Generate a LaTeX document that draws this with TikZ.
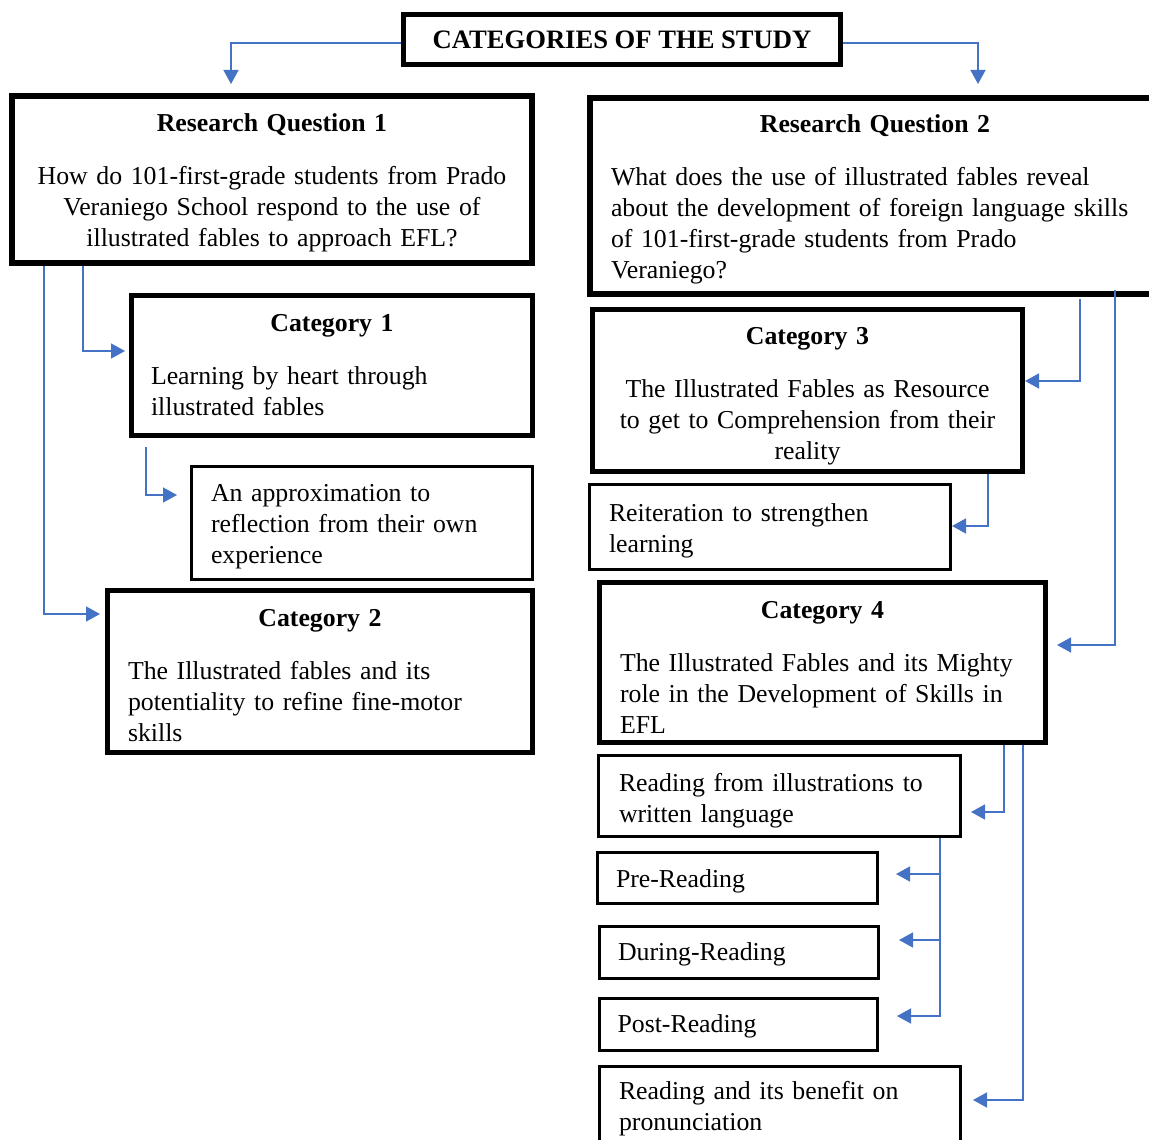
\documentclass[tikz,border=0pt]{standalone}
\usepackage{fontspec}
\setmainfont{Liberation Serif}
\setlength{\parindent}{0pt}
\usetikzlibrary{arrows.meta,positioning}

\definecolor{flowblue}{RGB}{68,114,196}
\newcommand{\topstrut}[1][12.5pt]{\rule{0pt}{#1}}
\newcommand{\boxhead}[2][12.5pt]{\centerline{\topstrut[#1]\bfseries #2}\vskip 11pt}

\tikzset{
  box/.style={draw, rectangle, inner xsep=0pt, inner ysep=2pt,
    font=\fontsize{12.9}{15.5}\selectfont},
  bigbox/.style={box, line width=3pt},
  catbox/.style={box, line width=2.5pt},
  subbox/.style={box, line width=1.5pt, align=left},
  flow/.style={flowblue, line width=0.75pt,
    -{Triangle[length=7pt,width=7.5pt]}},
  gap/.style={shorten >=#1},
}

\begin{document}
\begin{tikzpicture}[x=0.5pt,y=-0.5pt]
  \useasboundingbox (0,0) rectangle (1149,1139);

  \node[box, line width=2.5pt, minimum width=218.5pt, minimum height=25pt,
    font=\fontsize{13.3}{15.5}\selectfont]
    (title) at (622,39.5) {\textbf{CATEGORIES OF THE STUDY}};

  % left column
  \node[bigbox, align=center, text width=250pt, minimum width=260pt, minimum height=83.5pt]
    (rq1) at (272,179.5) {\boxhead{Research Question 1}
    How do 101-first-grade students from Prado\\
    Veraniego School respond to the use of\\
    illustrated fables to approach EFL?};
  \node[catbox, align=left, text width=181pt, minimum width=200.5pt, minimum height=70pt]
    (cat1) [below left=13.5pt and 0pt of rq1.south east] {\boxhead[0pt]{Category 1}
    Learning by heart through\\ illustrated fables};
  \node[subbox, text width=151pt, minimum width=170.5pt, minimum height=56.5pt]
    (approx) [below left=13.5pt and 0.5pt of cat1.south east]
    {\topstrut An approximation to\\ reflection from their own\\ experience};
  \node[catbox, align=left, text width=192pt, minimum width=212.5pt, minimum height=81pt]
    (cat2) [below left=3.5pt and -0.5pt of approx.south east] {\boxhead{Category 2}
    The Illustrated fables and its\\ potentiality to refine fine-motor\\ skills};

  % right column
  \node[bigbox, align=left, text width=264pt, minimum width=285pt, minimum height=98pt]
    (rq2) at (875,196) {\boxhead{Research Question 2}
    What does the use of illustrated fables reveal\\
    about the development of foreign language skills\\
    of 101-first-grade students from Prado\\
    Veraniego?};
  \node[catbox, align=center, text width=205pt, minimum width=215pt, minimum height=81pt]
    (cat3) [below right=5pt and 1.5pt of rq2.south west] {\boxhead[14pt]{Category 3}
    The Illustrated Fables as Resource\\ to get to Comprehension from their\\ reality};
  \node[subbox, text width=161pt, minimum width=180.5pt, minimum height=42.5pt]
    (reit) [below right=4.5pt and -1pt of cat3.south west]
    {\topstrut Reiteration to strengthen\\ learning};
  \node[catbox, align=left, text width=202.5pt, minimum width=223pt, minimum height=80pt]
    (cat4) [below right=4.5pt and 4.5pt of reit.south west] {\boxhead[13pt]{Category 4}
    The Illustrated Fables and its Mighty\\ role in the Development of Skills in\\ EFL};
  \node[subbox, text width=160.5pt, minimum width=181pt, minimum height=40.5pt]
    (rfi) [below right=4.5pt and 0pt of cat4.south west]
    {\topstrut[13.5pt]Reading from illustrations to\\ written language};
  \node[subbox, text width=121.5pt, minimum width=140pt, minimum height=25.5pt]
    (pre) [below right=6.5pt and -0.5pt of rfi.south west] {\topstrut[12pt]Pre-Reading};
  \node[subbox, text width=121pt, minimum width=139.5pt, minimum height=26pt]
    (during) [below right=10pt and 1pt of pre.south west] {\topstrut[11pt]During-Reading};
  \node[subbox, text width=121pt, minimum width=139pt, minimum height=26pt]
    (post) [below right=8.5pt and 0pt of during.south west] {\topstrut[11pt]Post-Reading};
  \node[subbox, text width=161pt, minimum width=180.5pt, minimum height=42pt]
    (benefit) [below right=6.5pt and 0pt of post.south west]
    {Reading and its benefit on\\ pronunciation};

  % connectors
  \draw[flow, gap=4.5pt] (title.west |- 0,43) -| (231,0 |- rq1.north);
  \draw[flow, gap=5.5pt] (title.east |- 0,43) -| (978,0 |- rq2.north);
  \draw[flow, gap=2pt] (83,0 |- rq1.south) |- (cat1.west |- 0,351);
  \draw[flow, gap=2.5pt] (44,0 |- rq1.south) |- (cat2.west |- 0,614);
  \draw[flow, gap=6.5pt, shorten <=4.5pt] (146,0 |- cat1.south) |- (approx.west |- 0,495);
  \draw[flow, shorten <=1pt] (1080,0 |- rq2.south) |- (cat3.east |- 0,381);
  \draw[flow, gap=4.5pt, shorten <=-3.5pt] (1115,0 |- rq2.south) |- (cat4.east |- 0,645);
  \draw[flow] (988,0 |- cat3.south) |- (reit.east |- 0,526);
  \draw[flow, gap=4.5pt] (1004,0 |- cat4.south) |- (rfi.east |- 0,812);
  \draw[flow, gap=5.5pt] (1023,0 |- cat4.south) |- (benefit.east |- 0,1100);
  \draw[flow, gap=8.5pt] (940,0 |- rfi.south) |- (pre.east |- 0,874);
  \draw[flow, gap=9.5pt] (940,0 |- rfi.south) |- (during.east |- 0,940);
  \draw[flow, gap=9pt] (940,0 |- rfi.south) |- (post.east |- 0,1016);

\end{tikzpicture}
\end{document}
